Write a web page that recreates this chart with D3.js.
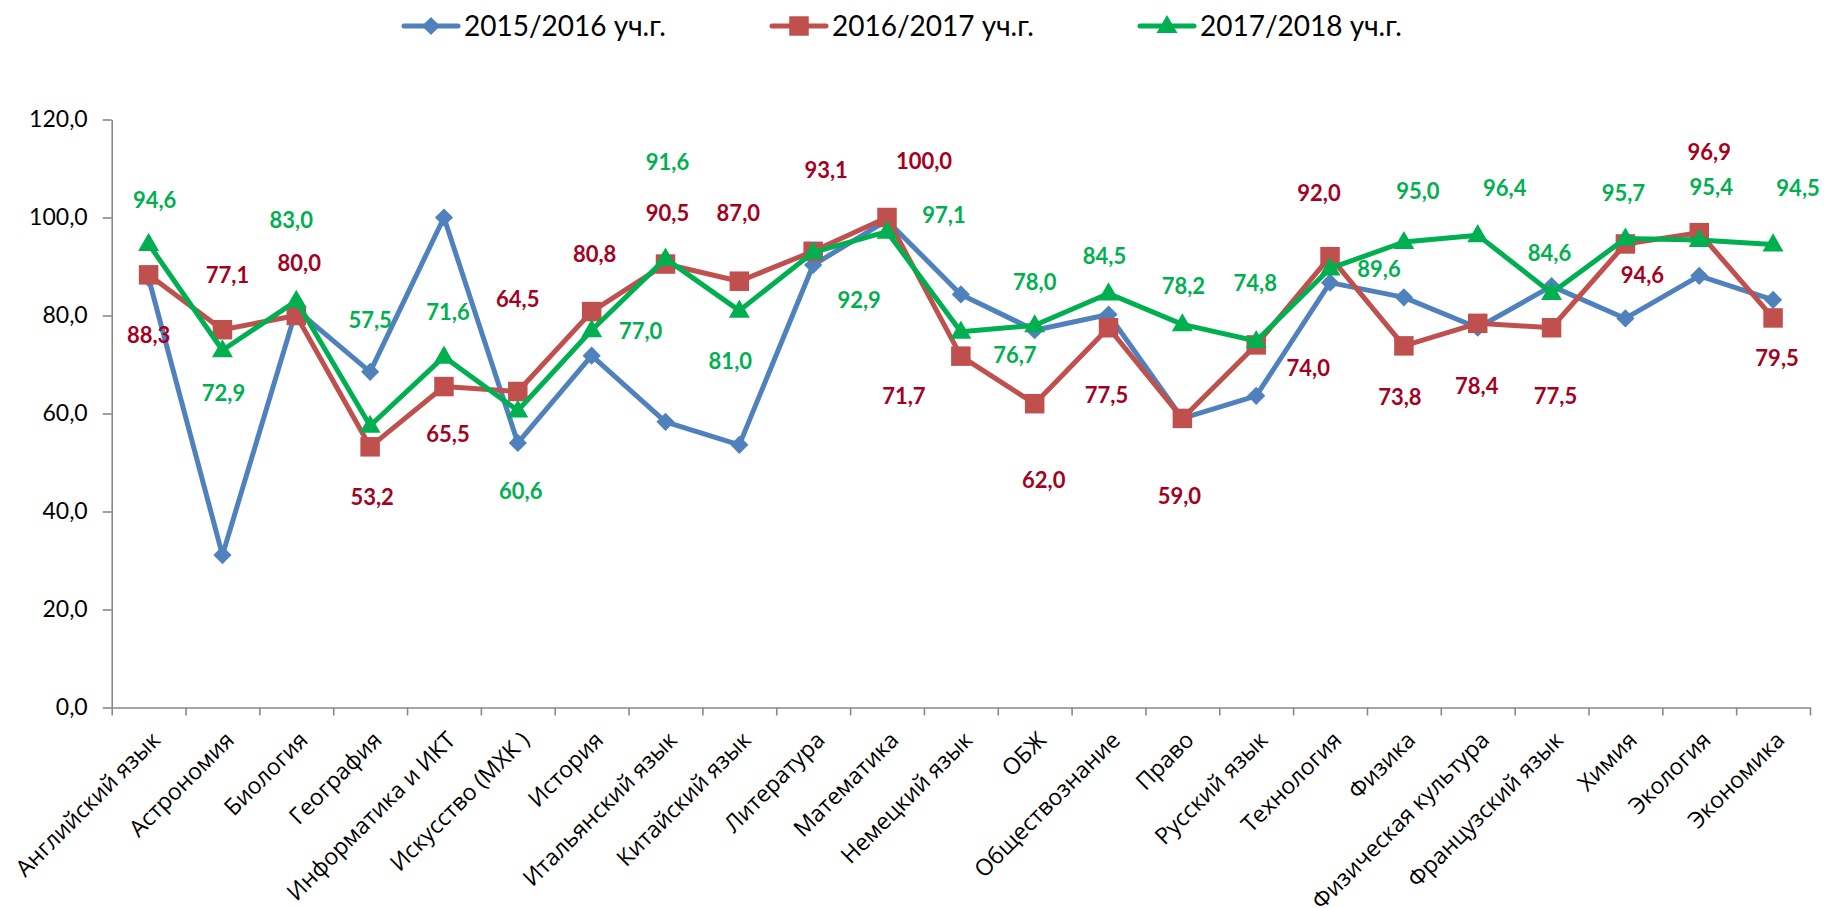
<!DOCTYPE html>
<html>
<head>
<meta charset="utf-8">
<script src="https://cdnjs.cloudflare.com/ajax/libs/d3/7.8.5/d3.min.js"></script>
<style>
  body { margin: 0; background: #fff; }
  svg { display: block; }
</style>
</head>
<body>
<div id="chart"></div>
<script>
// data
const categories = [
  "Английский язык", "Астрономия", "Биология", "География", "Информатика и ИКТ",
  "Искусство (МХК )", "История", "Итальянский язык", "Китайский язык", "Литература",
  "Математика", "Немецкий язык", "ОБЖ", "Обществознание", "Право", "Русский язык",
  "Технология", "Физика", "Физическая культура", "Французский язык", "Химия",
  "Экология", "Экономика"
]
const seriesNames = ["2015/2016 уч.г.", "2016/2017 уч.г.", "2017/2018 уч.г."]
const values1516 = [87.6, 31.1, 81.2, 68.5, 100.0, 54.0, 71.8, 58.3, 53.6, 90.3, 99.4, 84.3,
  77.0, 80.2, 59.0, 63.6, 86.7, 83.7, 77.5, 86.0, 79.4, 88.1, 83.2]
const values1617 = [88.3, 77.1, 80.0, 53.2, 65.5, 64.5, 80.8, 90.5, 87.0, 93.1, 100.0, 71.7,
  62.0, 77.5, 59.0, 74.0, 92.0, 73.8, 78.4, 77.5, 94.6, 96.9, 79.5]
const values1718 = [94.6, 72.9, 83.0, 57.5, 71.6, 60.6, 77.0, 91.6, 81.0, 92.9, 97.1, 76.7,
  78.0, 84.5, 78.2, 74.8, 89.6, 95.0, 96.4, 84.6, 95.7, 95.4, 94.5]
const yTicks = [0, 20, 40, 60, 80, 100, 120]

const WIDTH = 1827
const HEIGHT = 908
const LEFT = 111.7
const RIGHT = 1810
const TOP = 119.5
const BOTTOM = 707.5

const COLORS = ["#4F81BD", "#C0504D", "#00B050"]
const LABEL_COLORS = [null, "#A50021", "#00B050"]

// label nudges (px) relative to the point, like the hand-moved Excel labels
const redLabelPos = [[0, 60], [5, -55], [3, -52], [2, 50], [4, 48], [0, -92], [3, -58],
  [2, -51], [-1, -68], [13, -81], [37, -56], [-57, 40], [9, 76], [-2, 67], [-3, 78],
  [52, 23], [-11, -64], [-4, 51], [-1, 63], [4, 68], [17, 31], [10, -81], [4, 40]]
const greenLabelPos = [[6, -44], [1, 43], [-5, -81], [0, -106], [4, -45], [3, 81], [49, 1],
  [2, -97], [-9, 50], [46, 48], [57, -17], [54, 23], [0, -43], [-4, -37], [1, -38],
  [-1, -58], [49, 1], [14, -51], [27, -47], [-2, -40], [-2, -45], [12, -53], [25, -56]]

const ru = d3.formatLocale({ decimal: ",", thousands: " ", grouping: [3], currency: ["", ""] })
const fmt = ru.format(".1f")

const svg = d3.select("#chart")
  .append("svg")
  .attr("width", WIDTH)
  .attr("height", HEIGHT)

svg.append("rect").attr("width", WIDTH).attr("height", HEIGHT).attr("fill", "#fff")

const x = d3.scaleBand()
  .domain(categories)
  .range([LEFT, RIGHT])
  .paddingInner(0)
  .paddingOuter(0)

// boundaries between categories for tick marks
const xEdge = d3.scaleLinear()
  .domain([0, categories.length])
  .range([LEFT, RIGHT])

const y = d3.scaleLinear()
  .domain([0, 120])
  .range([BOTTOM, TOP])

const cx = (i) => x(categories[i]) + x.bandwidth() / 2

// y axis
const yAxis = svg.append("g")
  .attr("transform", `translate(${LEFT},0)`)
  .call(d3.axisLeft(y).tickValues(yTicks).tickFormat(fmt).tickSize(9).tickSizeOuter(0).tickPadding(15))
yAxis.select(".domain").attr("stroke", "#898989").attr("stroke-width", 1.6)
yAxis.selectAll(".tick line").attr("stroke", "#898989").attr("stroke-width", 1.6)
yAxis.selectAll(".tick text")
  .attr("font-family", "Lato, 'Noto Sans', sans-serif")
  .attr("font-size", 23)
  .attr("fill", "#000")

// x axis: tick marks on category edges
const xTicks = svg.append("g")
  .attr("transform", `translate(0,${BOTTOM})`)
  .call(d3.axisBottom(xEdge).tickValues(d3.range(0, categories.length + 1)).tickFormat("").tickSize(8).tickSizeOuter(0))
xTicks.select(".domain").attr("stroke", "#898989").attr("stroke-width", 1.6)
xTicks.selectAll(".tick line").attr("stroke", "#898989").attr("stroke-width", 1.6)

// x axis: rotated category names
const xLabels = svg.append("g")
  .attr("transform", `translate(0,${BOTTOM})`)
  .call(d3.axisBottom(x).tickSize(0))
xLabels.select(".domain").remove()
xLabels.selectAll(".tick text")
  .attr("x", 0)
  .attr("y", 0)
  .attr("dy", 0)
  .attr("transform", "translate(13,34) rotate(-45)")
  .attr("text-anchor", "end")
  .attr("font-family", "'Open Sans', 'Noto Sans', sans-serif")
  .attr("font-size", 23)
  .attr("fill", "#000")

// series
const allSeries = [values1516, values1617, values1718]

const line = d3.line()
  .x((d, i) => cx(i))
  .y((d) => y(d))

const diamond = d3.symbol(d3.symbolSquare, 165)
const square = d3.symbol(d3.symbolSquare, 380)
const triangle = d3.symbol(d3.symbolTriangle, 190)

function drawMarker(g, k, px, py) {
  if (k === 0) {
    g.append("path").attr("d", diamond()).attr("transform", `translate(${px},${py}) rotate(45)`).attr("fill", COLORS[0])
  } else if (k === 1) {
    g.append("path").attr("d", square()).attr("transform", `translate(${px},${py})`).attr("fill", COLORS[1])
  } else {
    g.append("path").attr("d", triangle()).attr("transform", `translate(${px},${py + 1})`).attr("fill", COLORS[2])
  }
}

allSeries.forEach((vals, k) => {
  const g = svg.append("g")
  g.append("path")
    .datum(vals)
    .attr("d", line)
    .attr("fill", "none")
    .attr("stroke", COLORS[k])
    .attr("stroke-width", 5)
    .attr("stroke-linejoin", "round")
  vals.forEach((v, i) => drawMarker(g, k, cx(i), y(v)))
})

// data labels (red and green series)
const labelSets = [[values1617, redLabelPos, 1], [values1718, greenLabelPos, 2]]
labelSets.forEach(([vals, pos, k]) => {
  svg.append("g")
    .selectAll("text")
    .data(vals)
    .enter()
    .append("text")
    .attr("x", (d, i) => cx(i) + pos[i][0])
    .attr("y", (d, i) => y(d) + pos[i][1])
    .attr("dy", "0.36em")
    .attr("text-anchor", "middle")
    .attr("font-family", "Lato, 'Noto Sans', sans-serif")
    .attr("font-weight", "bold")
    .attr("font-size", 22)
    .attr("fill", LABEL_COLORS[k])
    .text((d) => fmt(d))
})

// legend
const legendX0 = 404
const legendStep = 368
const legendY = 26
seriesNames.forEach((name, k) => {
  const g = svg.append("g").attr("transform", `translate(${legendX0 + k * legendStep},${legendY})`)
  g.append("line")
    .attr("x1", 0).attr("x2", 54).attr("y1", 0).attr("y2", 0)
    .attr("stroke", COLORS[k]).attr("stroke-width", 5).attr("stroke-linecap", "round")
  drawMarker(g, k, 27, 0)
  g.append("text")
    .attr("x", 60)
    .attr("y", 0)
    .attr("dy", "0.36em")
    .attr("font-family", "Lato, 'Noto Sans', sans-serif")
    .attr("font-size", 28)
    .attr("fill", "#000")
    .text(name)
})
</script>
</body>
</html>
